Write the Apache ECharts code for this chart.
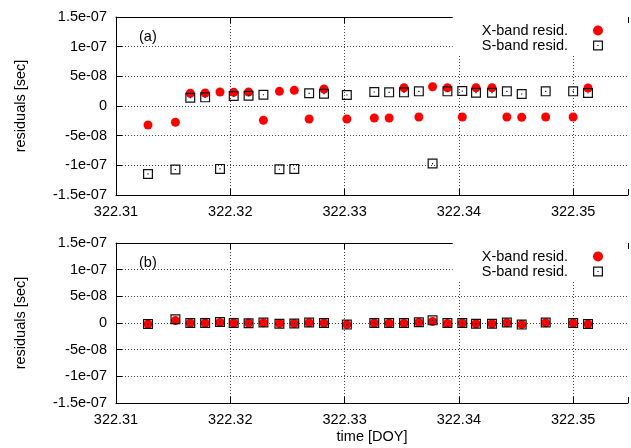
<!DOCTYPE html>
<html lang="en">
<head>
  <meta charset="UTF-8" />
  <title>residuals</title>
  <script src="https://cdn.jsdelivr.net/npm/echarts@6.0.0/dist/echarts.min.js"></script>
</head>
<body style="margin:0; background:#fff;">
  <div id="main" style="width: 631px; height: 448px;"></div>
  <script type="text/javascript">
    // time of each observation [DOY]
    let times = [322.3128, 322.3152, 322.3165, 322.3178, 322.3191, 322.3203, 322.3216, 322.3229, 322.3243,
      322.3256, 322.3269, 322.3282, 322.3302, 322.3326, 322.3339, 322.3352, 322.3365, 322.3377,
      322.3390, 322.3403, 322.3415, 322.3429, 322.3442, 322.3455, 322.3476, 322.3500, 322.3513];

    // (a) residuals [sec]
    let xbandA = [-3.2e-8, -2.74e-8, 2.14e-8, 2.19e-8, 2.36e-8, 2.3e-8, 2.36e-8, -2.4e-8, 2.47e-8,
      2.64e-8, -2.19e-8, 2.86e-8, -2.2e-8, -2.02e-8, -2.02e-8, 3.08e-8, -1.85e-8, 3.25e-8,
      3.08e-8, -1.85e-8, 3.08e-8, 3.08e-8, -1.85e-8, -1.9e-8, -1.85e-8, -1.85e-8, 3.03e-8];
    let sbandA = [-1.145e-7, -1.07e-7, 1.4e-8, 1.46e-8, -1.06e-7, 1.68e-8, 1.74e-8, 1.9e-8, -1.066e-7,
      -1.06e-7, 2.14e-8, 2.07e-8, 1.85e-8, 2.36e-8, 2.3e-8, 2.3e-8, 2.47e-8, -9.7e-8,
      2.47e-8, 2.52e-8, 2.24e-8, 2.24e-8, 2.47e-8, 2.02e-8, 2.47e-8, 2.47e-8, 2.19e-8];

    // (b) residuals [sec]
    let xbandB = [-2e-9, 4.5e-9, 0, 0, 1e-9, 0, 0, 0.5e-9, -1e-9,
      -1e-9, 0.5e-9, 0, -3e-9, 0, -0.5e-9, -0.5e-9, 1e-9, 3e-9,
      -1e-9, 0, -1.5e-9, -1.5e-9, 0.5e-9, -3e-9, 0.5e-9, 0, -2e-9];
    let sbandB = [-2e-9, 7e-9, 0, 0, 2e-9, 0, -0.5e-9, 1e-9, -1.5e-9,
      -1e-9, 1e-9, 0, -3e-9, 0, 0, 0, 1.5e-9, 5e-9,
      0, 0, -1.5e-9, -1.5e-9, 1e-9, -3e-9, 1e-9, 0, -2e-9];

    let seriesNames = ['X-band resid.', 'S-band resid.'];
    let panelLabels = ['(a)', '(b)'];

    let font = 'Liberation Sans';
    let fontSize = 14.5;
    // hollow square with a dot in the middle
    let squareSymbol = 'path://M0,0L10,0L10,10L0,10Z M1.2,1.2L1.2,8.8L8.8,8.8L8.8,1.2Z M4.4,4.4L5.6,4.4L5.6,5.6L4.4,5.6Z';

    function pairs(ys) {
      return times.map(function (t, i) { return [t, ys[i]]; });
    }

    // gnuplot style labels: 1.5e-07, 5e-08, 0
    function yLabel(v) {
      if (Math.abs(v) < 1e-12) return '0';
      let s = Number(v.toPrecision(6)).toExponential();
      return s.replace(/e([+-])(\d)$/, 'e$10$2');
    }
    function xLabel(v) {
      if (Math.abs(v * 100 - Math.round(v * 100)) > 1e-6) return '';
      return v.toFixed(2);
    }

    let grids = [
      { left: 116, top: 17, width: 518, height: 178 },
      { left: 116, top: 243, width: 518, height: 160 }
    ];

    let xAxes = [];
    let yAxes = [];
    let legends = [];
    let series = [];
    let graphics = [];
    let dataSets = [[xbandA, sbandA], [xbandB, sbandB]];

    grids.forEach(function (g, gi) {
      let xBase = {
        type: 'value', gridIndex: gi, min: 322.31, max: 322.3548, interval: 0.01,
        axisLine: { show: true, onZero: false, lineStyle: { color: '#000', width: 1 } },
        axisTick: { show: true, inside: true, length: 6, lineStyle: { color: '#000' } }
      };
      xAxes.push(Object.assign({}, xBase, {
        position: 'bottom',
        name: gi === 1 ? 'time [DOY]' : '',
        nameLocation: 'middle',
        nameGap: 26,
        nameTextStyle: { fontFamily: font, fontSize: fontSize, color: '#000' },
        axisLabel: { formatter: xLabel, margin: 9, fontFamily: font, fontSize: fontSize, color: '#000' },
        splitLine: { show: true, showMinLine: false, showMaxLine: false, lineStyle: { color: '#444', type: [1, 2], width: 1 } }
      }));
      // mirror axis for the top frame
      xAxes.push(Object.assign({}, xBase, {
        position: 'top',
        axisLabel: { show: false },
        splitLine: { show: false }
      }));
      yAxes.push({
        type: 'value', gridIndex: gi, min: -1.5e-7, max: 1.5e-7, interval: 5e-8,
        name: 'residuals [sec]',
        nameLocation: 'middle',
        nameRotate: 90,
        nameGap: 88,
        nameTextStyle: { fontFamily: font, fontSize: fontSize, color: '#000' },
        axisLine: { show: true, lineStyle: { color: '#000', width: 1 } },
        axisTick: { show: true, inside: true, length: 6, lineStyle: { color: '#000' } },
        axisLabel: { formatter: yLabel, margin: 9, fontFamily: font, fontSize: fontSize, color: '#000' },
        splitLine: { show: true, showMinLine: false, showMaxLine: false, lineStyle: { color: '#444', type: [1, 2], width: 1 } }
      });
      legends.push({
        data: seriesNames,
        orient: 'vertical',
        right: 3,
        top: g.top,
        align: 'right',
        itemWidth: 10,
        itemHeight: 10,
        itemGap: 0,
        padding: [6, 25, 1, 29],
        backgroundColor: '#fff',
        textStyle: { fontFamily: font, fontSize: fontSize, color: '#000', lineHeight: 15, padding: [0, 20, 0, 0] }
      });
      series.push({
        name: seriesNames[0], type: 'scatter', xAxisIndex: gi * 2, yAxisIndex: gi,
        symbol: 'circle', symbolSize: 9,
        itemStyle: { color: '#ff0000', opacity: 1 },
        data: pairs(dataSets[gi][0])
      });
      series.push({
        name: seriesNames[1], type: 'scatter', xAxisIndex: gi * 2, yAxisIndex: gi,
        symbol: squareSymbol, symbolSize: 10,
        itemStyle: { color: '#111', opacity: 1 },
        data: pairs(dataSets[gi][1])
      });
      graphics.push({
        type: 'text', left: 139, top: g.top + 12,
        style: { text: panelLabels[gi], font: fontSize + 'px "' + font + '"', fill: '#000' }
      });
    });

    let myChart = echarts.init(document.getElementById('main'), null, { renderer: 'canvas' });
    myChart.setOption({
      animation: false,
      grid: grids,
      xAxis: xAxes,
      yAxis: yAxes,
      legend: legends,
      series: series,
      graphic: graphics
    });
  </script>
</body>
</html>
